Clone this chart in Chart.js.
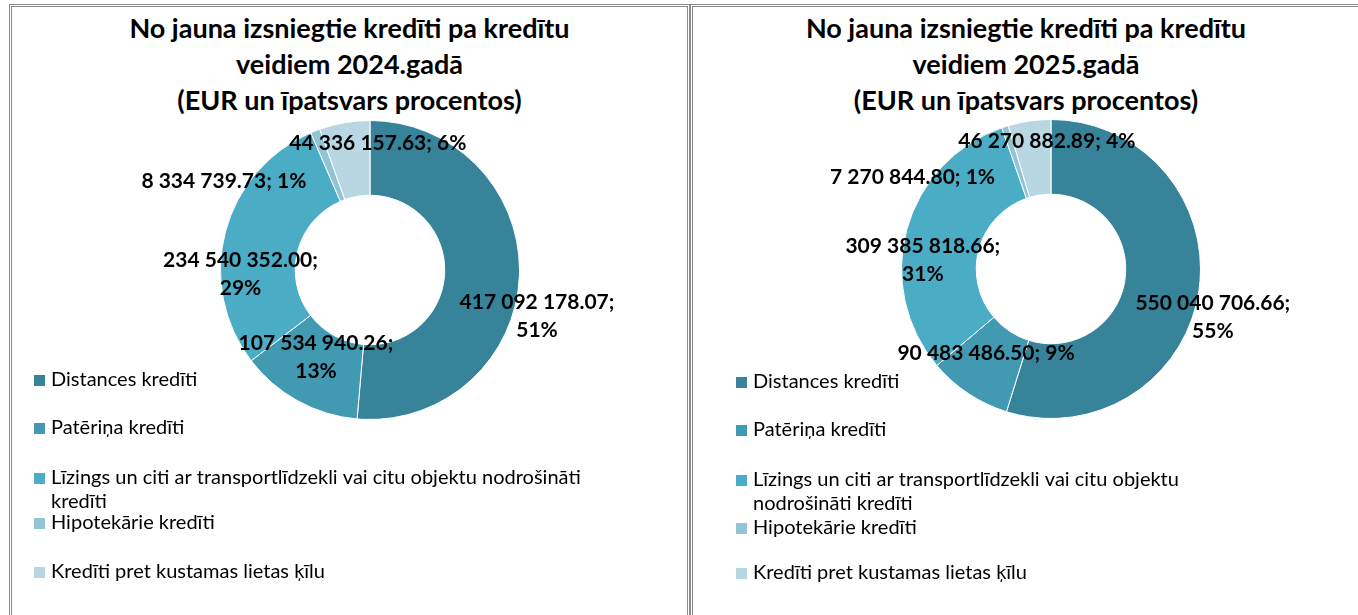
<!DOCTYPE html>
<html>
<head>
<meta charset="utf-8">
<script src="https://cdn.jsdelivr.net/npm/chart.js@4.4.1/dist/chart.umd.min.js"></script>
<style>
  body { margin: 0; background: #fff; width: 1358px; height: 615px; overflow: hidden; position: relative; font-family: Lato, sans-serif; }
  .panel { position: absolute; top: 4px; height: 700px; border: 3px double #8a8a8a; box-sizing: border-box; }
  .title { position: absolute; top: 10px; text-align: center; font-weight: bold; font-size: 27px; line-height: 36px; color: #000; }
  canvas { position: absolute; }
</style>
</head>
<body>
<div class="panel" style="left:9px; width:681px;"></div>
<div class="panel" style="left:690px; width:690px;"></div>
<div class="title" id="t2024" style="left:9px; width:681px;"></div>
<div class="title" id="t2025" style="left:690px; width:672px;"></div>
<canvas id="c2024" width="675" height="608" style="left:12px; top:7px;"></canvas>
<canvas id="c2025" width="664" height="608" style="left:694px; top:7px;"></canvas>
<script>
const categories = [
    "Distances kredīti",
    "Patēriņa kredīti",
    "Līzings un citi ar transportlīdzekli vai citu objektu nodrošināti kredīti",
    "Hipotekārie kredīti",
    "Kredīti pret kustamas lietas ķīlu"
];
const values2024 = [417092178.07, 107534940.26, 234540352.00, 8334739.73, 44336157.63];
const values2025 = [550040706.66, 90483486.50, 309385818.66, 7270844.80, 46270882.89];
const sliceColors = ["#37839a", "#4199b2", "#4bacc6", "#93c4d5", "#b9d7e3"];
const title2024 = ["No jauna izsniegtie kredīti pa kredītu", "veidiem 2024.gadā", "(EUR un īpatsvars procentos)"];
const title2025 = ["No jauna izsniegtie kredīti pa kredītu", "veidiem 2025.gadā", "(EUR un īpatsvars procentos)"];

function fmt(v) {
    const parts = v.toFixed(2).split(".");
    return parts[0].replace(/\B(?=(\d{3})+(?!\d))/g, " ") + "." + parts[1];
}

// whole percents that add up to 100 (largest remainder)
function percents(data) {
    const total = data.reduce((a, b) => a + b, 0);
    const raw = data.map(v => v / total * 100);
    const out = raw.map(Math.floor);
    let left = 100 - out.reduce((a, b) => a + b, 0);
    const order = raw.map((v, i) => i).sort((a, b) => (raw[b] - out[b]) - (raw[a] - out[a]));
    for (let k = 0; k < left; k++) out[order[k]]++;
    return out;
}

// value labels, placed from each arc's mid-ring point plus a nudge
const sliceLabels = {
    id: "sliceLabels",
    afterDatasetsDraw(chart, args, opts) {
        const ctx = chart.ctx;
        const data = chart.data.datasets[0].data;
        const pcts = percents(data);
        ctx.save();
        ctx.font = "bold 21px Lato";
        ctx.fillStyle = "#000";
        ctx.textAlign = "center";
        ctx.textBaseline = "middle";
        chart.getDatasetMeta(0).data.forEach((arc, i) => {
            const p = arc.getProps(["x", "y", "startAngle", "endAngle", "innerRadius", "outerRadius"], true);
            const a = (p.startAngle + p.endAngle) / 2;
            const r = (p.innerRadius + p.outerRadius) / 2;
            const x = p.x + Math.cos(a) * r + opts.shift[i][0];
            const y = p.y + Math.sin(a) * r + opts.shift[i][1];
            const val = fmt(data[i]);
            const pct = pcts[i] + "%";
            if (opts.wrap[i]) {
                ctx.fillText(val + ";", x, y - 14);
                ctx.fillText(pct, x, y + 14);
            } else {
                ctx.fillText(val + "; " + pct, x, y);
            }
        });
        ctx.restore();
    }
};

// legend down the left side, like the spreadsheet one
const sideLegend = {
    id: "sideLegend",
    afterDraw(chart, args, opts) {
        const ctx = chart.ctx;
        const colors = chart.data.datasets[0].backgroundColor;
        ctx.save();
        ctx.font = "20px Lato";
        ctx.textBaseline = "middle";
        ctx.textAlign = "left";
        chart.data.labels.forEach((label, i) => {
            const y = opts.rows[i];
            ctx.fillStyle = colors[i];
            ctx.fillRect(opts.markX, y - 5, 11, 11);
            ctx.fillStyle = "#000";
            const words = label.split(" ");
            let line = "", ly = y;
            words.forEach(w => {
                const test = line ? line + " " + w : w;
                if (line && ctx.measureText(test).width > opts.maxWidth) {
                    ctx.fillText(line, opts.textX, ly);
                    line = w;
                    ly += 24;
                } else {
                    line = test;
                }
            });
            ctx.fillText(line, opts.textX, ly);
        });
        ctx.restore();
    }
};

function makeChart(id, values, padding, labelOpts, legendOpts) {
    return new Chart(document.getElementById(id), {
        type: "doughnut",
        data: {
            labels: categories,
            datasets: [{
                data: values,
                backgroundColor: sliceColors,
                borderColor: "#fff",
                borderWidth: 1
            }]
        },
        options: {
            responsive: false,
            animation: false,
            cutout: "50%",
            layout: { padding: padding },
            plugins: {
                legend: { display: false },
                tooltip: { enabled: false },
                sliceLabels: labelOpts,
                sideLegend: legendOpts
            }
        },
        plugins: [sliceLabels, sideLegend]
    });
}

document.getElementById("t2024").innerHTML = title2024.join("<br>");
document.getElementById("t2025").innerHTML = title2025.join("<br>");

makeChart("c2024", values2024,
    { left: 208, right: 167, top: 113, bottom: 195 },
    { shift: [[55, 41], [0, -11], [-21, 33], [-105, 16], [27, -16]], wrap: [true, true, true, false, false] },
    { rows: [373, 421, 471, 516, 565], markX: 22, textX: 39, maxWidth: 560 });

makeChart("c2025", values2025,
    { left: 207, right: 157, top: 112, bottom: 196 },
    { shift: [[51, 31], [-3, -9], [-20, 21], [-104, 15], [12, -17]], wrap: [true, false, true, false, false] },
    { rows: [375, 423, 473, 521, 566], markX: 42, textX: 59, maxWidth: 470 });
</script>
</body>
</html>
